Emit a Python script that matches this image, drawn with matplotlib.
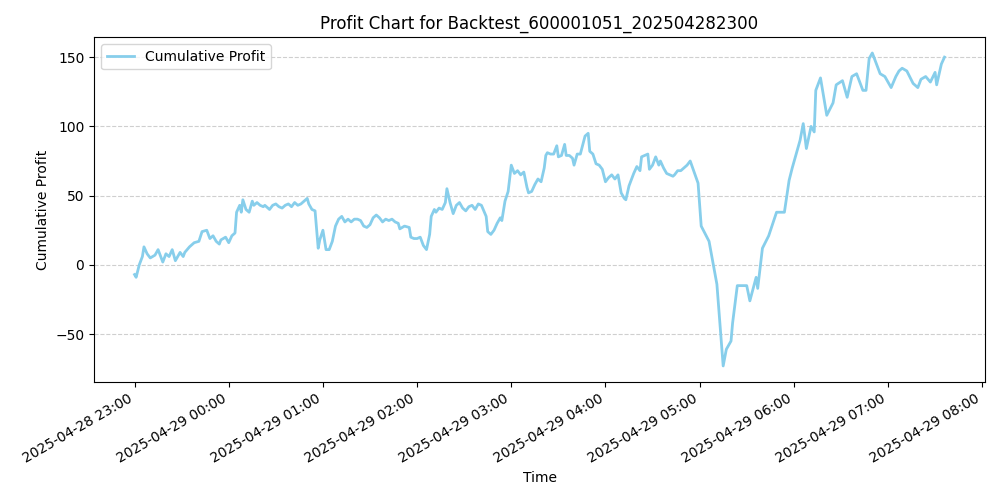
import matplotlib
matplotlib.use("Agg")
import matplotlib.pyplot as plt
import matplotlib.dates as mdates
import pandas as pd

start = "2025-04-28 23:00"
minutes = [0,1,3,5,6,8,10,13,15,17,18,20,22,24,26,29,31,32,35,38,41,43,46,48,50,52,54,55,58,60,62,64,65,67,68,69,71,73,75,76,78,80,82,83,86,88,90,92,94,96,98,100,102,104,106,108,110,111,113,115,117,118,120,122,124,126,128,130,132,134,136,138,140,142,144,146,148,150,152,154,156,158,160,162,164,166,168,169,172,175,176,178,180,182,184,186,188,189,191,192,194,196,198,199,201,203,205,207,209,211,213,215,217,219,221,224,225,227,229,231,233,234,236,238,240,242,244,246,248,250,251,253,255,257,259,261,262,263,265,267,269,270,272,274,275,277,279,280,282,284,287,289,290,292,294,296,298,300,302,304,306,308,310,312,313,315,318,320,322,323,325,327,328,330,332,334,335,337,339,341,343,344,346,348,350,352,354,359,361,366,371,375,377,380,381,384,390,392,396,397,400,404,409,414,417,419,424,426,428,431,433,434,437,441,445,447,451,454,457,460,464,466,468,470,475,478,482,485,487,489,492,496,499,501,504,507,510,511,514,516]
profit = [-7,-9,0,6,13,8,5,7,11,5,2,8,6,11,3,9,6,9,13,16,17,24,25,19,21,17,15,18,20,16,21,23,38,43,38,47,40,38,46,43,45,43,42,43,40,43,44,42,41,43,44,42,45,43,44,46,48,44,40,39,12,18,25,11,11,17,28,33,35,31,33,31,33,33,32,28,27,29,34,36,34,31,33,32,33,31,30,26,28,27,20,19,19,20,14,11,22,35,40,38,41,40,45,55,45,37,43,45,41,39,42,43,40,44,43,35,24,22,25,30,34,32,46,53,72,66,68,65,67,56,52,53,58,62,60,70,79,81,80,80,86,78,79,87,79,79,77,72,80,80,93,95,82,80,73,72,69,60,63,65,62,65,52,48,47,57,66,71,68,78,79,80,69,72,78,72,75,70,66,65,64,65,68,68,70,72,75,59,28,17,-14,-73,-61,-55,-42,-15,-15,-26,-9,-17,12,21,38,38,61,70,90,102,84,100,96,126,135,108,117,130,133,121,136,138,126,126,149,153,138,136,128,136,140,142,140,131,128,134,136,132,139,130,145,150]

times = pd.Timestamp(start) + pd.to_timedelta(minutes, unit="min")

fig, ax = plt.subplots(figsize=(10, 5), dpi=100)
ax.plot(times, profit, color="skyblue", linewidth=2, label="Cumulative Profit")
ax.set_title("Profit Chart for Backtest_600001051_202504282300")
ax.set_xlabel("Time")
ax.set_ylabel("Cumulative Profit")
ax.grid(axis="y", linestyle="--", alpha=0.6)
ax.legend(loc="upper left")
ax.xaxis.set_major_locator(mdates.HourLocator())
ax.xaxis.set_major_formatter(mdates.DateFormatter("%Y-%m-%d %H:%M"))
fig.autofmt_xdate()
fig.tight_layout()
fig.savefig("out.png")
